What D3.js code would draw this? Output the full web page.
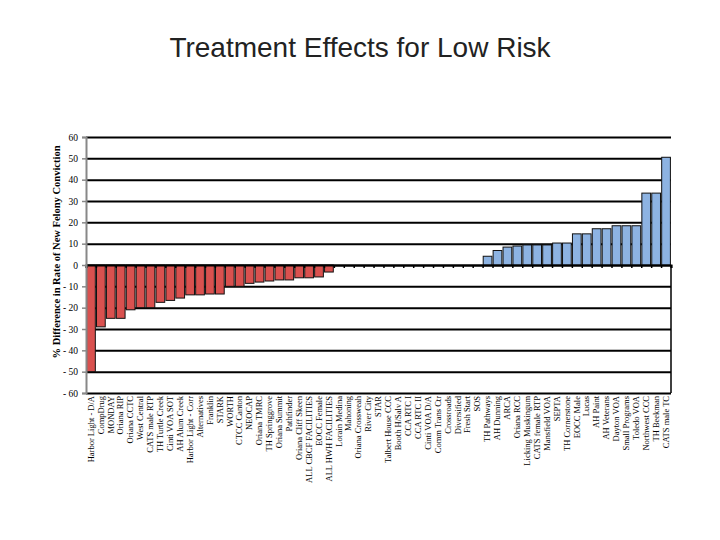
<!DOCTYPE html>
<html>
<head>
<meta charset="utf-8">
<script src="https://cdn.jsdelivr.net/npm/d3@7"></script>
<style>
  body { margin: 0; background: #fff; }
</style>
</head>
<body>
<div id="chart"></div>
<script>
// Treatment effects chart (low risk)

const programs = [
  'Harbor Light - D/A', 'CompDrug', 'MONDAY', 'Oriana RIP', 'Oriana CCTC',
  'West Central', 'CATS male RTP', 'TH Turtle Creek', 'Cinti VOA SOT', 'AH Alum Creek',
  'Harbor Light - Corr', 'Alternatives', 'Franklin', 'STARK', 'WORTH',
  'CTCC Canton', 'NEOCAP', 'Oriana TMRC', 'TH Springgrove', 'Oriana Summit',
  'Pathfinder', 'Oriana Cliff Skeen', 'ALL CBCF FACILITIES', 'EOCC Female', 'ALL HWH FACILITIES',
  'Lorain Medina', 'Mahoning', 'Oriana Crossweah', 'River City', 'STAR',
  'Talbert House CCC', 'Booth H/Salv A', 'CCA RTC I', 'CCA RTC II', 'Cinti VOA D/A',
  'Comm Trans Ctr', 'Crossroads', 'Diversified', 'Fresh Start', 'SOS',
  'TH Pathways', 'AH Dunning', 'ARCA', 'Oriana RCC', 'Licking Muskingum',
  'CATS female RTP', 'Mansfield VOA', 'SEPTA', 'TH Cornerstone', 'EOCC Male',
  'Lucas', 'AH Paint', 'AH Veterans', 'Dayton VOA', 'Small Programs',
  'Toledo VOA', 'Northwest CCC', 'TH Beekman', 'CATS male TC'
];

const pctDiff = [
  -50, -29, -25, -25, -21, -20, -20, -17.5, -16.6, -15.5,
  -14, -14, -13.6, -13.6, -10, -10, -8.6, -8, -7.5, -7,
  -7, -6, -6, -5.6, -3.3, 0, 0, 0, 0, 0,
  0, 0, 0, 0, 0, 0, 0, 0, 0, 0,
  4.1, 6.8, 8.4, 8.9, 9.4, 9.4, 9.4, 10.3, 10.3, 14.6,
  14.6, 17, 17, 18.4, 18.4, 18.4, 33.7, 33.7, 50.5
];

const yTicks = [-60, -50, -40, -30, -20, -10, 0, 10, 20, 30, 40, 50, 60];

const W = 720, H = 540;
const plot = { left: 86, right: 671, top: 137, bottom: 393 };

const svg = d3.select('#chart').append('svg')
  .attr('width', W).attr('height', H)
  .style('font-family', '"Liberation Serif", "Times New Roman", serif');

const x = d3.scaleBand()
  .domain(programs)
  .range([plot.left, plot.right])
  .paddingInner(0.12)
  .paddingOuter(0.06);

const xIdx = d3.scaleLinear()
  .domain([0, programs.length])
  .range([plot.left, plot.right]);

const y = d3.scaleLinear()
  .domain([-60, 60])
  .range([plot.bottom, plot.top]);

// title
svg.append('text')
  .attr('x', 360).attr('y', 57)
  .attr('text-anchor', 'middle')
  .attr('font-family', '"Liberation Sans", Arial, sans-serif')
  .attr('font-size', 28)
  .attr('fill', '#222')
  .text('Treatment Effects for Low Risk');

// gridlines
const grid = svg.append('g')
  .attr('transform', `translate(${plot.left},0)`)
  .call(d3.axisLeft(y).tickValues(yTicks).tickSize(-(plot.right - plot.left)).tickFormat(''));
grid.select('.domain').remove();
grid.selectAll('line').attr('stroke', '#000').attr('stroke-width', 2);

// bars
svg.append('g').selectAll('rect')
  .data(pctDiff)
  .join('rect')
  .attr('x', (d, i) => x(programs[i]))
  .attr('width', x.bandwidth())
  .attr('y', d => y(Math.max(0, d)))
  .attr('height', d => Math.abs(y(d) - y(0)))
  .attr('fill', d => d < 0 ? '#d9514f' : '#8db3e2')
  .attr('stroke', d => d === 0 ? 'none' : '#111')
  .attr('stroke-width', 1);

// zero line with category ticks
const zeroAxis = svg.append('g')
  .attr('transform', `translate(0,${y(0)})`)
  .call(d3.axisBottom(xIdx).tickValues(d3.range(programs.length + 1)).tickSize(3).tickFormat(''));
zeroAxis.select('.domain').attr('stroke', '#000').attr('stroke-width', 2);
zeroAxis.selectAll('.tick line').attr('stroke', '#000').attr('stroke-width', 1.5);

// right edge below zero
svg.append('line')
  .attr('x1', plot.right).attr('x2', plot.right)
  .attr('y1', y(0)).attr('y2', y(-60))
  .attr('stroke', '#000').attr('stroke-width', 1.5);

// left axis
const yAxis = svg.append('g')
  .attr('transform', `translate(${plot.left},0)`)
  .call(d3.axisLeft(y).tickValues(yTicks).tickSize(4)
    .tickFormat(d => d < 0 ? '- ' + Math.abs(d) : d));
yAxis.select('.domain').attr('stroke', '#888').attr('stroke-width', 2);
yAxis.selectAll('.tick line').attr('stroke', '#888').attr('stroke-width', 1.5);
yAxis.selectAll('text')
  .attr('font-family', '"Liberation Serif", "Times New Roman", serif')
  .attr('font-size', 9.5).attr('fill', '#000').attr('x', -8);

// category labels
const labels = svg.append('g')
  .attr('transform', `translate(0,${plot.bottom + 3})`)
  .call(d3.axisBottom(x).tickSize(0));
labels.select('.domain').remove();
labels.selectAll('text')
  .attr('font-family', '"Liberation Serif", "Times New Roman", serif')
  .attr('font-size', 8.5).attr('fill', '#000')
  .attr('text-anchor', 'end')
  .attr('transform', 'rotate(-90)')
  .attr('x', 0).attr('y', 0)
  .attr('dx', '0').attr('dy', '0.32em');

// y axis title
svg.append('text')
  .attr('transform', `translate(60,252) rotate(-90)`)
  .attr('text-anchor', 'middle')
  .attr('font-size', 10.5).attr('font-weight', 'bold')
  .text('% Difference in Rate of New Felony Conviction');
</script>
</body>
</html>
